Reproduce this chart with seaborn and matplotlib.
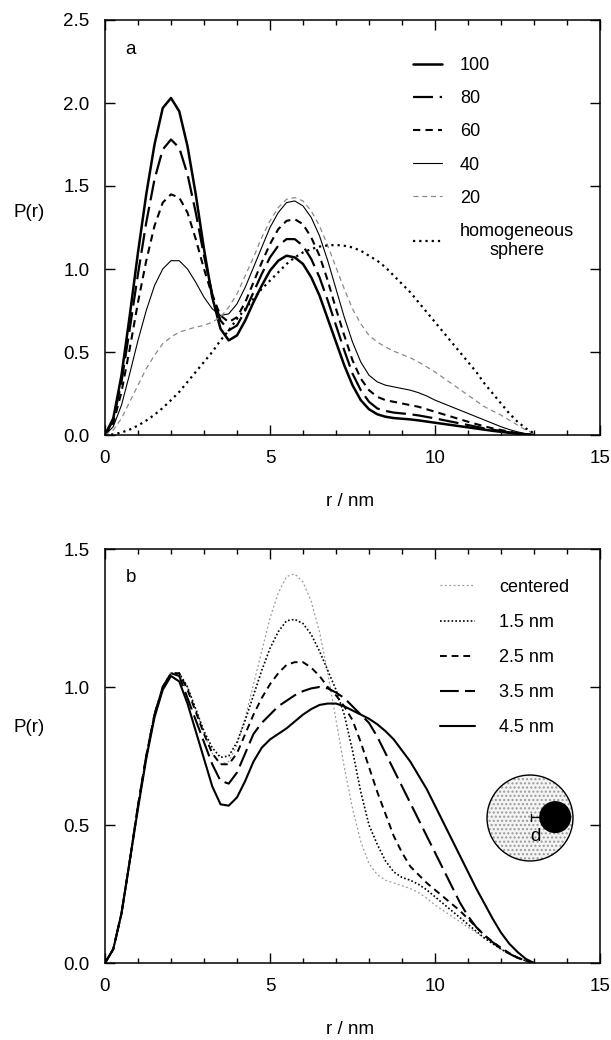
import numpy as np
import pandas as pd
import matplotlib
matplotlib.use("Agg")
import matplotlib.pyplot as plt
import seaborn as sns
from matplotlib.patches import Circle
from matplotlib.ticker import MultipleLocator, FormatStrFormatter

sns.set_style("ticks")
plt.rcParams['font.family'] = ['Liberation Sans', 'DejaVu Sans']
plt.rcParams['text.color'] = 'black'
plt.rcParams['axes.labelcolor'] = 'black'
plt.rcParams['xtick.color'] = 'black'
plt.rcParams['ytick.color'] = 'black'

# ---------------- data ----------------
r = [0, 0.25, 0.5, 0.75, 1, 1.25, 1.5, 1.75, 2, 2.25, 2.5, 2.75, 3, 3.25, 3.5, 3.75,
     4, 4.25, 4.5, 4.75, 5, 5.25, 5.5, 5.75, 6, 6.25, 6.5, 6.75, 7, 7.25, 7.5, 7.75,
     8, 8.25, 8.5, 8.75, 9, 9.25, 9.5, 9.75, 10, 10.25, 10.5, 10.75, 11, 11.25, 11.5,
     11.75, 12, 12.25, 12.5, 12.75, 13]

# panel a
a_100 = [0, 0.1, 0.36, 0.72, 1.1, 1.45, 1.75, 1.97, 2.03, 1.95, 1.74, 1.45, 1.12, 0.83, 0.64, 0.57,
         0.6, 0.69, 0.8, 0.9, 0.99, 1.05, 1.08, 1.07, 1.03, 0.95, 0.84, 0.7, 0.56, 0.42, 0.3, 0.21,
         0.155, 0.125, 0.11, 0.102, 0.098, 0.094, 0.088, 0.081, 0.074, 0.067, 0.06, 0.053, 0.046,
         0.039, 0.032, 0.025, 0.019, 0.013, 0.008, 0.003, 0]
a_80 = [0, 0.09, 0.32, 0.64, 0.97, 1.28, 1.54, 1.72, 1.78, 1.73, 1.57, 1.34, 1.08, 0.85, 0.69, 0.63,
        0.66, 0.75, 0.86, 0.97, 1.07, 1.14, 1.18, 1.18, 1.14, 1.06, 0.95, 0.81, 0.66, 0.51, 0.37, 0.27,
        0.2, 0.16, 0.145, 0.135, 0.13, 0.125, 0.118, 0.109, 0.1, 0.09, 0.08, 0.07, 0.06, 0.05, 0.04,
        0.032, 0.024, 0.016, 0.01, 0.004, 0]
a_60 = [0, 0.07, 0.26, 0.52, 0.8, 1.05, 1.26, 1.4, 1.45, 1.43, 1.34, 1.18, 1.0, 0.84, 0.72, 0.68,
        0.71, 0.8, 0.92, 1.04, 1.15, 1.24, 1.29, 1.3, 1.27, 1.19, 1.08, 0.93, 0.76, 0.6, 0.45, 0.34,
        0.27, 0.23, 0.21, 0.2, 0.19, 0.18, 0.17, 0.155, 0.14, 0.125, 0.11, 0.095, 0.08, 0.066, 0.052,
        0.04, 0.03, 0.02, 0.012, 0.005, 0]
a_40 = [0, 0.05, 0.18, 0.37, 0.57, 0.75, 0.9, 1.0, 1.05, 1.05, 1.0, 0.92, 0.83, 0.76, 0.72, 0.73,
        0.79, 0.89, 1.01, 1.13, 1.25, 1.34, 1.4, 1.41, 1.38, 1.31, 1.2, 1.05, 0.88, 0.71, 0.56, 0.44,
        0.36, 0.32, 0.3, 0.29, 0.28, 0.27, 0.255, 0.235, 0.21, 0.19, 0.17, 0.15, 0.13, 0.11, 0.09,
        0.07, 0.05, 0.033, 0.019, 0.008, 0]
a_20 = [0, 0.03, 0.1, 0.2, 0.3, 0.4, 0.48, 0.55, 0.59, 0.62, 0.635, 0.65, 0.66, 0.68, 0.71, 0.77,
        0.85, 0.96, 1.07, 1.19, 1.29, 1.37, 1.42, 1.43, 1.41, 1.35, 1.26, 1.14, 1.01, 0.88, 0.76, 0.67,
        0.6, 0.56, 0.53, 0.505, 0.485, 0.465, 0.44, 0.41, 0.38, 0.345, 0.31, 0.275, 0.24, 0.205, 0.17,
        0.145, 0.12, 0.09, 0.06, 0.03, 0.01]
a_homog = [0, 0.004, 0.015, 0.033, 0.057, 0.087, 0.122, 0.163, 0.21, 0.26, 0.32, 0.38, 0.44, 0.5,
           0.57, 0.63, 0.7, 0.76, 0.82, 0.88, 0.93, 0.98, 1.03, 1.07, 1.1, 1.12, 1.135, 1.142, 1.145,
           1.14, 1.13, 1.11, 1.08, 1.05, 1.01, 0.96, 0.91, 0.86, 0.8, 0.74, 0.68, 0.62, 0.56, 0.5,
           0.44, 0.38, 0.31, 0.25, 0.19, 0.13, 0.08, 0.04, 0.01]

# panel b
b_centered = a_40
b_15 = [0, 0.05, 0.18, 0.37, 0.57, 0.75, 0.9, 1.0, 1.05, 1.05, 1.0, 0.92, 0.84, 0.78, 0.745, 0.75,
        0.8, 0.88, 0.97, 1.06, 1.14, 1.2, 1.24, 1.245, 1.23, 1.19, 1.13, 1.06, 0.99, 0.9, 0.77, 0.62,
        0.5, 0.43, 0.37, 0.33, 0.31, 0.3, 0.285, 0.265, 0.24, 0.215, 0.19, 0.165, 0.14, 0.115, 0.09,
        0.07, 0.05, 0.033, 0.019, 0.008, 0]
b_25 = [0, 0.05, 0.18, 0.37, 0.57, 0.75, 0.9, 1.0, 1.05, 1.05, 0.99, 0.91, 0.83, 0.76, 0.72, 0.72,
        0.76, 0.83, 0.9, 0.96, 1.01, 1.05, 1.08, 1.09, 1.09, 1.07, 1.04, 1.0, 0.97, 0.93, 0.88, 0.8,
        0.71, 0.62, 0.54, 0.46, 0.4, 0.35, 0.32, 0.29, 0.265, 0.24, 0.215, 0.19, 0.16, 0.13, 0.1,
        0.077, 0.055, 0.036, 0.02, 0.008, 0]
b_35 = [0, 0.05, 0.18, 0.37, 0.57, 0.75, 0.9, 1.0, 1.05, 1.04, 0.96, 0.88, 0.8, 0.72, 0.66, 0.65,
        0.69, 0.76, 0.83, 0.87, 0.9, 0.93, 0.95, 0.97, 0.985, 0.995, 1.0, 0.995, 0.98, 0.96, 0.93, 0.9,
        0.87, 0.82, 0.76, 0.7, 0.64, 0.58, 0.52, 0.46, 0.4, 0.34, 0.28, 0.22, 0.17, 0.13, 0.1,
        0.075, 0.052, 0.034, 0.019, 0.008, 0]
b_45 = [0, 0.05, 0.18, 0.37, 0.56, 0.74, 0.89, 0.99, 1.04, 1.02, 0.94, 0.84, 0.74, 0.64, 0.575, 0.57,
        0.6, 0.66, 0.73, 0.78, 0.81, 0.83, 0.85, 0.875, 0.9, 0.92, 0.935, 0.94, 0.94, 0.93, 0.915, 0.9,
        0.885, 0.865, 0.84, 0.81, 0.77, 0.73, 0.68, 0.63, 0.57, 0.51, 0.45, 0.39, 0.33, 0.27, 0.215,
        0.16, 0.11, 0.07, 0.04, 0.015, 0]

labels_a = ["100", "80", "60", "40", "20", "homogeneous\nsphere"]
labels_b = ["centered", "1.5 nm", "2.5 nm", "3.5 nm", "4.5 nm"]

styles_a = [
    dict(color="black", lw=1.8, ls="-"),
    dict(color="black", lw=1.6, ls=(0, (9, 3))),
    dict(color="black", lw=1.5, ls=(0, (3.5, 2.5))),
    dict(color="black", lw=0.8, ls="-"),
    dict(color="#8a8a8a", lw=0.9, ls=(0, (4, 3))),
    dict(color="black", lw=1.6, ls=(0, (1, 1.8))),
]
styles_b = [
    dict(color="#9a9a9a", lw=0.9, ls=(0, (1.5, 2))),
    dict(color="black", lw=1.2, ls=(0, (1, 1.3))),
    dict(color="black", lw=1.4, ls=(0, (3.5, 2.5))),
    dict(color="black", lw=1.5, ls=(0, (9, 3))),
    dict(color="black", lw=1.5, ls="-"),
]

W, H = 611, 1040
fig = plt.figure(figsize=(W / 100, H / 100), dpi=100)

def px_axes(l, r_, t, b):
    return fig.add_axes([l / W, 1 - b / H, (r_ - l) / W, (b - t) / H])

ax_a = px_axes(105, 600, 20, 435)
ax_b = px_axes(105, 600, 549, 963)

def style_axes(ax, ymax, ylab_y):
    ax.set_xlim(0, 15)
    ax.set_ylim(0, ymax)
    ax.xaxis.set_major_locator(MultipleLocator(5))
    ax.xaxis.set_minor_locator(MultipleLocator(1))
    ax.yaxis.set_major_locator(MultipleLocator(0.5))
    ax.yaxis.set_major_formatter(FormatStrFormatter('%.1f'))
    ax.tick_params(which="both", direction="in", top=True, right=True, width=1.0,
                   labelsize=13.5, pad=11, color="black", labelcolor="black")
    ax.tick_params(which="major", length=7)
    ax.tick_params(which="minor", length=3.5)
    for s in ax.spines.values():
        s.set_linewidth(1.1)
        s.set_color("black")
    ax.set_xlabel("r / nm", fontsize=13.5, color="black")
    ax.xaxis.set_label_coords(0.495, -0.14)
    ax.set_ylabel("P(r)", fontsize=13.5, rotation=0, ha="center", va="center", color="black")
    ax.yaxis.set_label_coords(-0.154, ylab_y)

series_a = [a_100, a_80, a_60, a_40, a_20, a_homog]
for vals, lab, st in zip(series_a, labels_a, styles_a):
    sns.lineplot(x=r, y=vals, ax=ax_a, label=lab, color=st["color"], linewidth=st["lw"],
                 linestyle=st["ls"], estimator=None, sort=False)

series_b = [b_centered, b_15, b_25, b_35, b_45]
for vals, lab, st in zip(series_b, labels_b, styles_b):
    sns.lineplot(x=r, y=vals, ax=ax_b, label=lab, color=st["color"], linewidth=st["lw"],
                 linestyle=st["ls"], estimator=None, sort=False)

style_axes(ax_a, 2.5, 0.536)
style_axes(ax_b, 1.5, 0.57)

leg_a = ax_a.legend(loc="upper left", bbox_to_anchor=(0.622, 0.91), frameon=False,
                    fontsize=13, handlelength=1.6, handletextpad=1.0, labelspacing=0.89,
                    borderpad=0, borderaxespad=0)
for t in leg_a.get_texts():
    t.set_multialignment("center")
    t.set_color("black")
leg_b = ax_b.legend(loc="upper left", bbox_to_anchor=(0.677, 0.928), frameon=False,
                    fontsize=13, handlelength=1.95, handletextpad=1.3, labelspacing=1.0,
                    borderpad=0, borderaxespad=0)
for t in leg_b.get_texts():
    t.set_color("black")

ax_a.text(0.052, 0.93, "a", transform=ax_a.transAxes, fontsize=13.5, ha="center", va="center")
ax_b.text(0.052, 0.93, "b", transform=ax_b.transAxes, fontsize=13.5, ha="center", va="center")

# inset diagram
ins = px_axes(485, 575, 773, 863)
ins.set_xlim(-1, 1)
ins.set_ylim(-1, 1)
ins.set_aspect("equal")
ins.axis("off")
ins.add_patch(Circle((0, 0), 0.955, facecolor="#f4f4f4", edgecolor="#9a9a9a", lw=0, hatch="...."))
ins.add_patch(Circle((0, 0), 0.955, fill=False, edgecolor="black", lw=1.0))
ins.add_patch(Circle((0.56, 0.02), 0.34, facecolor="black", edgecolor="black"))
ins.plot([0.03, 0.22], [0.02, 0.02], color="black", lw=1.0)
ins.plot([0.03, 0.03], [-0.06, 0.10], color="black", lw=1.0)
ins.text(0.12, -0.42, "d", fontsize=13.5, ha="center", va="center")

fig.savefig("out.png", dpi=100)
